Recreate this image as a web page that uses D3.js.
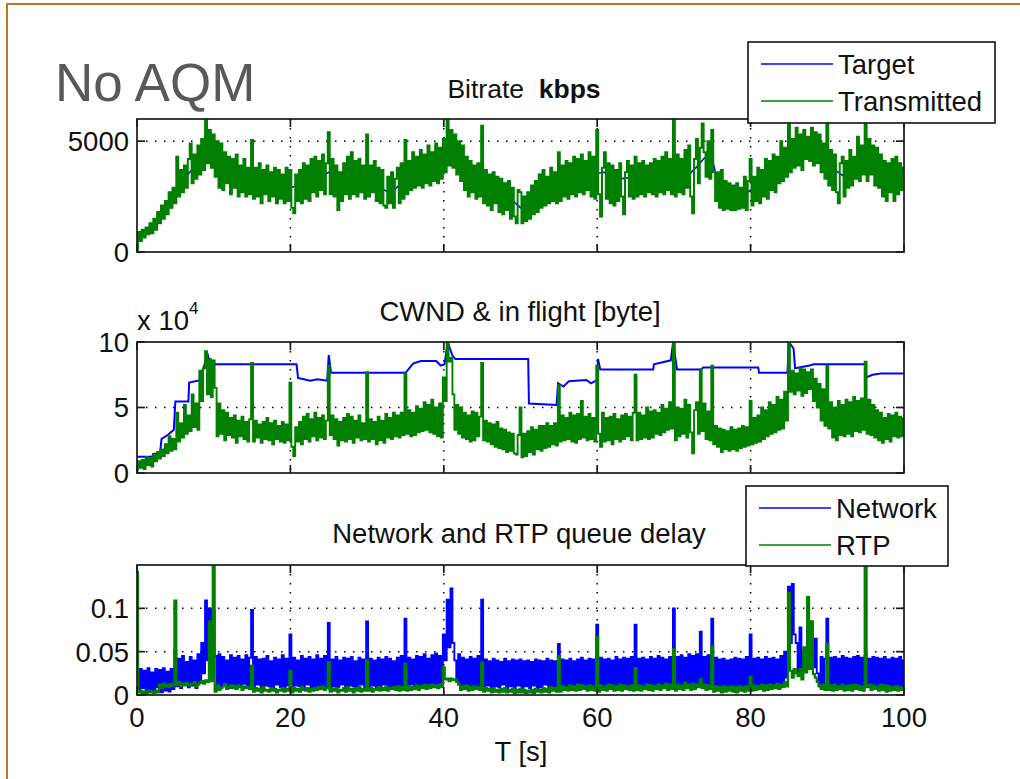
<!DOCTYPE html>
<html>
<head>
<meta charset="utf-8">
<script src="https://cdn.jsdelivr.net/npm/d3@7"></script>
<style>
  html, body { margin: 0; padding: 0; background: #fff; }
  svg text { font-family: "Liberation Sans", Arial, Helvetica, sans-serif; }
</style>
</head>
<body>
<div id="chart"></div>
<script>
// global constants
const W = 1020;
const H = 779;
const PLOT_LEFT = 137;
const PLOT_RIGHT = 904;
const BLUE = "#0000ff";
const GREEN = "#007f00";
const FONT = 27.5;

// shared time axis
const xTicks = [0, 20, 40, 60, 80, 100];
const COARSE_STEP = 1;    // seconds between target bitrate samples
const FINE_STEP = 0.25;   // seconds between noisy samples

// Bitrate [kbps] - target (1 s)
const bitrateTarget = [
  700, 850, 1100, 1700, 2100, 2600, 3200, 3650, 4100, 4550,
  4650, 4200, 3750, 3500, 3350, 3250, 3100, 3050, 3000, 2950,
  2900, 3000, 3100, 3250, 3400, 3600, 3300, 3050, 3300, 3250,
  3300, 3100, 2850, 2650, 2950, 3250, 3500, 3650, 3800, 3900,
  4100, 4250, 4300, 3400, 2950, 2850, 2750, 2650, 2450, 2300,
  2000, 1950, 2500, 2800, 2950, 3050, 3150, 3250, 3350, 3450,
  3550, 3600, 2900, 3300, 3350, 3300, 3350, 3300, 3350, 3350,
  3400, 3350, 3500, 3850, 4250, 4200, 2700, 2300, 2050, 2500,
  2800, 3000, 3250, 3550, 4000, 4350, 4600, 4750, 4850, 4600,
  4100, 3700, 3450, 3800, 4250, 4350, 4150, 3800, 3350, 3250,
  3150
];

// Bitrate [kbps] - transmitted (0.25 s, one row = 5 s)
const bitrateTransmitted = [
  100, 900, 500, 1000, 650, 1100, 800, 1300, 850, 1500, 1000, 1800, 1300, 2100, 1500, 2300, 1700, 2700, 2000, 2900,
  2200, 4300, 2500, 3700, 2700, 3900, 2900, 4200, 4900, 3100, 4400, 3300, 4800, 3500, 5100, 3700, 5950, 4000, 5500, 3800,
  5300, 3400, 5000, 2900, 4900, 2800, 4500, 3100, 4300, 2600, 4200, 2900, 4400, 2500, 3900, 2700, 4200, 2500, 3800, 2600,
  5050, 2400, 3800, 2500, 4000, 2200, 3700, 2600, 3900, 2300, 3600, 2500, 3800, 2200, 3700, 2400, 3500, 2200, 3800, 2300,
  3700, 2000, 1750, 3500, 2300, 3700, 2200, 4000, 2400, 3900, 2300, 4200, 2700, 4300, 2500, 4100, 2800, 4400, 2600, 4000,
  5400, 2600, 4200, 2500, 3900, 1900, 3600, 2300, 4000, 2600, 4300, 2400, 4500, 2600, 4100, 2500, 4200, 2700, 3900, 2400,
  5300, 2500, 3900, 2700, 4100, 2300, 3800, 2200, 3700, 2100, 2000, 3400, 2200, 3600, 2000, 3300, 3800, 2200, 4000, 2400,
  5050, 2600, 4100, 2800, 4500, 2900, 4300, 3000, 4600, 2900, 4400, 3100, 4800, 3000, 4500, 3200, 4900, 3100, 4700, 3300,
  5100, 3600, 5950, 3900, 5500, 3800, 5300, 3500, 5000, 3200, 4800, 2800, 4300, 2500, 4100, 2700, 3900, 2400, 4000, 2500,
  5700, 2200, 3700, 2100, 3500, 1900, 3600, 2200, 3400, 1800, 3300, 1700, 3100, 1900, 3200, 1500, 2900, 1600, 1300, 2800,
  2700, 1300, 2500, 1400, 2700, 1500, 3000, 1700, 3200, 1800, 3500, 2000, 3700, 2100, 3400, 2200, 3800, 2300, 3600, 2200,
  4500, 2300, 3900, 2500, 4100, 2400, 4000, 2600, 4300, 2500, 4200, 2700, 4400, 2600, 4100, 2800, 4500, 2500, 4300, 2400,
  5500, 2600, 1600, 3800, 4500, 2400, 4000, 2200, 3900, 2100, 3700, 2300, 4000, 2500, 1700, 3600, 4100, 2500, 3900, 2400,
  4300, 2500, 4000, 2600, 4100, 2500, 3900, 2700, 4000, 2600, 4200, 2500, 4100, 2700, 4300, 2600, 4500, 2800, 4200, 2600,
  5950, 2500, 4400, 2700, 4200, 2600, 4600, 2900, 4800, 2500, 1750, 4200, 5100, 3100, 4700, 5800, 4500, 3400, 5000, 3300,
  5500, 3600, 2300, 3600, 2000, 3700, 1900, 3200, 1950, 3100, 1900, 3000, 1900, 3100, 1950, 2900, 2000, 3400, 1900, 3200,
  4200, 2100, 3400, 2300, 3800, 2200, 3700, 2500, 4200, 2400, 4100, 2800, 4400, 2700, 4300, 3100, 5000, 3200, 4700, 3400,
  5800, 3600, 5100, 3800, 5600, 3900, 5300, 3700, 5500, 4200, 5200, 4100, 5600, 3900, 5400, 4000, 5300, 3600, 4900, 3300,
  5800, 3000, 4600, 2800, 4400, 2700, 2200, 4000, 4300, 2500, 4100, 2900, 4600, 3000, 4300, 3300, 5200, 3200, 4800, 3500,
  5800, 3200, 5100, 3500, 4800, 3000, 4700, 2900, 4400, 2500, 4100, 2300, 4000, 2700, 4200, 2300, 4300, 2600, 4000, 2800,
  3800
];

// CWND [x 10^4 byte] - breakpoints (s, value)
const cwndTimes = [
  0, 2.0, 2.1, 3.0, 3.2, 4.0, 4.8, 5.0, 6.7, 6.8,
  8.4, 8.6, 9.2, 9.5, 20.8, 21.0, 22.6, 23.5, 24.8, 25.0,
  25.3, 35.0, 35.3, 36.0, 37.0, 39.0, 39.6, 40.1, 40.5, 41.1,
  41.5, 51.0, 51.1, 54.7, 54.9, 55.6, 56.3, 58.6, 59.2, 60.0,
  60.1, 60.4, 67.3, 67.4, 69.6, 69.9, 70.4, 73.6, 73.8, 81.0,
  81.1, 84.8, 85.0, 85.6, 85.8, 87.7, 88.2, 94.9, 95.1, 95.9,
  97.0, 100
];
const cwndValues = [
  1.25, 1.25, 1.45, 1.5, 2.6, 2.9, 3.3, 5.45, 5.45, 6.9,
  7.1, 7.85, 9.1, 8.3, 8.3, 7.25, 7.05, 7.15, 7.05, 9.0,
  7.65, 7.65, 7.85, 8.35, 8.55, 8.55, 8.2, 8.3, 10, 9.0,
  8.7, 8.7, 5.3, 5.2, 6.85, 6.6, 7.0, 7.1, 6.85, 7.1,
  8.7, 7.9, 7.9, 8.3, 8.6, 10, 7.9, 7.9, 8.05, 8.05,
  7.65, 7.65, 10, 9.5, 8.0, 8.2, 8.3, 8.3, 7.3, 7.5,
  7.6, 7.6
];

// In flight [x 10^4 byte] (0.25 s, one row = 5 s)
const inFlight = [
  0.2, 0.9, 0.4, 1.0, 0.3, 1.2, 0.6, 1.1, 0.5, 1.4, 0.9, 1.6, 1.1, 1.8, 1.3, 2.2, 1.5, 2.8, 1.7, 2.6,
  1.8, 4.6, 2.4, 3.8, 2.7, 5.2, 3.0, 4.4, 3.2, 6.0, 3.5, 5.3, 3.3, 7.8, 5.5, 8.0, 9.3, 6.0, 8.7, 5.8,
  8.6, 6.5, 2.8, 5.3, 3.0, 4.8, 2.5, 4.6, 2.9, 4.2, 2.7, 4.4, 2.3, 4.0, 2.8, 4.3, 2.6, 3.9, 2.4, 4.1,
  8.4, 2.4, 4.0, 2.7, 3.7, 2.3, 3.9, 2.6, 4.2, 2.5, 3.8, 2.2, 4.0, 2.6, 3.6, 2.4, 3.9, 2.3, 3.7, 2.5,
  6.9, 2.0, 1.3, 3.5, 2.4, 3.9, 2.2, 4.3, 2.6, 4.5, 2.4, 4.1, 2.8, 4.6, 2.5, 4.2, 2.7, 4.4, 2.6, 4.0,
  8.2, 2.9, 4.4, 2.6, 4.1, 2.1, 3.9, 2.5, 4.2, 2.4, 4.5, 2.6, 4.3, 2.3, 4.0, 2.7, 4.4, 2.5, 3.8, 2.6,
  7.7, 2.4, 4.1, 2.6, 3.9, 2.2, 4.3, 2.5, 4.0, 2.3, 4.5, 2.7, 4.2, 2.6, 4.6, 2.8, 4.4, 2.7, 4.6, 2.9,
  7.6, 3.0, 4.8, 2.8, 4.6, 2.9, 5.1, 3.1, 4.9, 3.2, 5.4, 3.3, 5.2, 3.1, 5.6, 3.0, 5.0, 2.8, 5.3, 2.7,
  7.3, 5.5, 10, 8.5, 8.8, 6.0, 3.3, 5.2, 3.0, 5.0, 2.7, 4.6, 2.6, 4.4, 2.4, 4.7, 2.5, 4.6, 2.8, 4.3,
  8.4, 2.5, 4.0, 2.4, 3.8, 2.2, 3.7, 2.0, 3.9, 1.9, 3.4, 1.8, 3.3, 1.6, 3.1, 1.7, 3.0, 1.5, 1.4, 2.9,
  5.0, 1.2, 3.0, 1.3, 3.2, 1.6, 3.5, 1.4, 3.3, 1.8, 3.6, 1.7, 3.6, 1.9, 3.8, 2.0, 3.6, 2.2, 3.8, 2.1,
  6.7, 2.4, 4.4, 2.5, 4.2, 2.6, 4.6, 2.4, 4.4, 2.3, 4.5, 2.6, 5.5, 2.7, 4.3, 2.5, 4.5, 2.6, 4.2, 2.4,
  8.2, 3.0, 2.0, 4.6, 2.4, 4.2, 2.5, 4.3, 2.2, 4.5, 2.6, 4.1, 2.4, 4.4, 2.6, 4.5, 2.8, 4.3, 2.5, 4.6,
  7.5, 2.5, 4.6, 2.6, 4.4, 2.7, 5.0, 2.6, 4.7, 2.7, 4.8, 3.0, 4.6, 2.9, 5.2, 3.1, 4.9, 3.3, 5.4, 3.4,
  10, 2.5, 5.0, 2.8, 4.9, 3.0, 5.6, 2.7, 5.2, 3.1, 1.5, 4.8, 5.4, 3.0, 7.9, 3.2, 5.3, 2.6, 4.7, 2.5,
  8.2, 2.2, 3.6, 2.0, 3.4, 1.6, 3.3, 1.8, 3.2, 1.7, 3.5, 1.8, 3.3, 1.7, 3.4, 1.9, 3.6, 2.0, 3.5, 2.1,
  5.5, 2.2, 4.2, 2.3, 4.4, 2.4, 5.0, 2.6, 4.8, 2.8, 5.4, 3.0, 5.2, 3.1, 5.8, 3.3, 5.6, 3.4, 6.2, 4.0,
  10, 6.2, 7.8, 6.0, 7.6, 6.3, 8.0, 5.9, 7.9, 6.1, 7.7, 6.4, 7.9, 5.5, 7.2, 5.0, 6.8, 4.0, 6.4, 3.6,
  8.2, 3.4, 5.4, 2.7, 5.0, 2.5, 5.5, 2.9, 5.2, 2.8, 5.6, 3.0, 5.4, 2.8, 5.8, 3.2, 5.5, 3.1, 5.7, 3.3,
  8.5, 3.0, 5.6, 2.9, 5.2, 2.7, 4.8, 2.5, 4.6, 2.3, 4.2, 2.6, 4.5, 2.4, 4.4, 2.8, 4.6, 2.7, 4.3, 2.8,
  4.2
];

// Network queue delay [ms] (0.25 s, one row = 5 s)
const networkDelayMs = [
  25, 4, 30, 8, 28, 3, 31, 6, 26, 4, 30, 9, 29, 3, 31, 5, 27, 4, 30, 7,
  52, 10, 42, 8, 45, 12, 38, 9, 44, 11, 40, 8, 47, 15, 60, 25, 109, 40, 100, 30,
  98, 45, 12, 47, 10, 44, 14, 40, 8, 46, 12, 43, 9, 45, 11, 41, 13, 46, 10, 43,
  98, 9, 44, 12, 41, 7, 42, 11, 45, 10, 39, 6, 43, 12, 41, 9, 46, 8, 42, 11,
  70, 8, 43, 11, 40, 10, 45, 7, 42, 12, 44, 9, 41, 8, 46, 11, 42, 8, 45, 10,
  83, 6, 41, 10, 44, 9, 40, 12, 43, 7, 42, 11, 44, 10, 39, 8, 43, 12, 41, 9,
  85, 7, 42, 11, 40, 9, 43, 6, 41, 12, 44, 8, 42, 10, 39, 11, 43, 7, 45, 9,
  88, 9, 43, 12, 41, 7, 45, 11, 44, 10, 47, 8, 42, 12, 46, 11, 48, 10, 45, 14,
  70, 40, 110, 55, 123, 60, 40, 15, 47, 9, 43, 12, 41, 7, 44, 11, 42, 9, 45, 10,
  110, 8, 41, 11, 39, 6, 42, 10, 40, 9, 38, 12, 42, 7, 39, 10, 41, 8, 40, 11,
  41, 6, 39, 10, 40, 8, 38, 11, 41, 7, 40, 9, 39, 12, 42, 6, 40, 10, 39, 9,
  59, 7, 41, 10, 40, 9, 42, 6, 39, 11, 41, 8, 43, 10, 40, 7, 42, 11, 41, 9,
  81, 8, 43, 11, 41, 6, 42, 10, 40, 9, 44, 7, 41, 12, 43, 8, 42, 10, 44, 9,
  81, 6, 42, 11, 43, 9, 41, 7, 44, 12, 42, 8, 45, 10, 43, 9, 41, 11, 44, 8,
  100, 7, 44, 12, 46, 10, 43, 9, 47, 11, 45, 8, 47, 13, 73, 10, 44, 12, 46, 9,
  88, 7, 43, 10, 41, 8, 42, 11, 40, 6, 41, 9, 43, 7, 42, 10, 41, 8, 44, 9,
  70, 7, 42, 10, 43, 8, 41, 11, 44, 6, 42, 9, 43, 12, 41, 8, 45, 10, 50, 20,
  125, 60, 128, 70, 60, 25, 78, 30, 50, 35, 80, 30, 40, 32, 65, 25, 12, 44, 10, 42,
  88, 8, 43, 11, 44, 7, 42, 10, 45, 9, 43, 12, 42, 8, 44, 11, 45, 7, 43, 10,
  46, 9, 42, 11, 44, 7, 43, 10, 42, 8, 44, 12, 41, 9, 43, 7, 42, 10, 44, 8,
  40
];

// RTP queue delay [ms] (0.25 s, one row = 5 s)
const rtpDelayMs = [
  142, 3, 5, 2, 4, 1, 5, 3, 4, 2, 5, 3, 12, 8, 13, 10, 12, 9, 13, 11,
  109, 12, 15, 10, 13, 11, 14, 12, 11, 13, 15, 10, 12, 14, 16, 13, 17, 15, 85, 16,
  150, 4, 11, 6, 8, 10, 12, 7, 9, 11, 8, 10, 7, 11, 9, 6, 10, 8, 9, 7,
  34, 4, 8, 5, 7, 3, 9, 5, 6, 4, 8, 5, 7, 3, 6, 5, 8, 4, 7, 5,
  28, 3, 8, 5, 7, 4, 9, 6, 5, 8, 4, 7, 5, 8, 6, 9, 7, 10, 6, 8,
  38, 4, 7, 5, 8, 3, 6, 5, 8, 4, 9, 5, 7, 3, 8, 5, 9, 4, 7, 5,
  40, 5, 8, 4, 7, 6, 9, 5, 8, 6, 10, 5, 8, 7, 9, 6, 10, 5, 9, 6,
  36, 5, 10, 6, 9, 7, 11, 6, 10, 8, 12, 7, 11, 8, 12, 9, 11, 8, 12, 9,
  32, 18, 19, 16, 19, 17, 18, 15, 12, 6, 10, 7, 11, 5, 9, 6, 10, 7, 9, 6,
  37, 4, 8, 5, 7, 3, 8, 4, 6, 3, 7, 4, 8, 3, 6, 4, 7, 2, 6, 3,
  7, 3, 6, 2, 5, 3, 6, 2, 7, 4, 6, 3, 8, 4, 7, 3, 9, 5, 8, 4,
  45, 4, 10, 6, 9, 5, 11, 6, 10, 5, 12, 6, 11, 7, 10, 5, 11, 6, 10, 5,
  67, 4, 11, 6, 10, 5, 12, 7, 11, 5, 10, 6, 12, 5, 11, 7, 10, 6, 11, 5,
  31, 6, 11, 5, 10, 7, 12, 6, 11, 5, 10, 7, 12, 6, 11, 8, 13, 6, 12, 7,
  53, 5, 12, 7, 11, 6, 14, 8, 12, 6, 13, 7, 12, 9, 18, 8, 12, 6, 11, 7,
  56, 4, 10, 5, 9, 3, 10, 4, 9, 5, 10, 4, 9, 3, 10, 5, 9, 4, 10, 5,
  21, 5, 11, 6, 10, 7, 12, 5, 11, 6, 12, 7, 11, 8, 13, 7, 12, 9, 15, 10,
  118, 28, 20, 30, 25, 22, 30, 18, 55, 26, 113, 30, 85, 24, 20, 15, 10, 7, 12, 6,
  59, 6, 11, 5, 12, 6, 10, 7, 12, 5, 10, 6, 11, 5, 12, 7, 11, 6, 10, 5,
  150, 10, 12, 6, 11, 7, 10, 5, 12, 6, 11, 4, 10, 5, 9, 6, 10, 5, 9, 6,
  8
];

// panel definitions
const panels = [
  { id: "p1", top: 119, bottom: 252, domain: [0, 6000], ticks: [0, 5000],
    tickLabels: ["0", "5000"], grid: [5000] },
  { id: "p2", top: 342, bottom: 473, domain: [0, 10], ticks: [0, 5, 10],
    tickLabels: ["0", "5", "10"], grid: [5] },
  { id: "p3", top: 565, bottom: 695, domain: [0, 150], ticks: [0, 50, 100],
    tickLabels: ["0", "0.05", "0.1"], grid: [50, 100] },
];

const svg = d3.select("#chart").append("svg")
  .attr("width", W)
  .attr("height", H)
  .attr("viewBox", `0 0 ${W} ${H}`);

// slide frame
svg.append("path")
  .attr("d", `M7,${H} L7,4 L${W},4`)
  .attr("fill", "none")
  .attr("stroke", "#c0781e")
  .attr("stroke-width", 2);

svg.append("text")
  .attr("x", 55)
  .attr("y", 101)
  .attr("font-size", 53)
  .attr("fill", "#595959")
  .text("No AQM");

const x = d3.scaleLinear().domain([0, 100]).range([PLOT_LEFT, PLOT_RIGHT]);

function drawPanel(p) {
  const y = d3.scaleLinear().domain(p.domain).range([p.bottom, p.top]);
  const g = svg.append("g");

  g.append("clipPath").attr("id", "clip-" + p.id)
    .append("rect")
    .attr("x", PLOT_LEFT).attr("y", p.top)
    .attr("width", PLOT_RIGHT - PLOT_LEFT).attr("height", p.bottom - p.top);

  // dotted grid
  const dots = "1.5,7.5";
  xTicks.slice(1, -1).forEach((t) => {
    g.append("line")
      .attr("x1", x(t)).attr("x2", x(t))
      .attr("y1", p.top).attr("y2", p.bottom)
      .attr("stroke", "#000").attr("stroke-width", 1.5)
      .attr("stroke-dasharray", dots);
  });
  p.grid.forEach((v) => {
    g.append("line")
      .attr("x1", PLOT_LEFT).attr("x2", PLOT_RIGHT)
      .attr("y1", y(v)).attr("y2", y(v))
      .attr("stroke", "#000").attr("stroke-width", 1.5)
      .attr("stroke-dasharray", dots);
  });

  const plot = g.append("g").attr("clip-path", `url(#clip-${p.id})`);

  // box + inward ticks
  const frame = g.append("g").attr("stroke", "#1a1a1a").attr("stroke-width", 1.7);
  frame.append("rect")
    .attr("x", PLOT_LEFT).attr("y", p.top)
    .attr("width", PLOT_RIGHT - PLOT_LEFT).attr("height", p.bottom - p.top)
    .attr("fill", "none");
  const TL = 8;
  xTicks.forEach((t) => {
    frame.append("line").attr("x1", x(t)).attr("x2", x(t))
      .attr("y1", p.bottom).attr("y2", p.bottom - TL);
    frame.append("line").attr("x1", x(t)).attr("x2", x(t))
      .attr("y1", p.top).attr("y2", p.top + TL);
  });
  p.ticks.forEach((v, i) => {
    frame.append("line").attr("x1", PLOT_LEFT).attr("x2", PLOT_LEFT + TL)
      .attr("y1", y(v)).attr("y2", y(v));
    frame.append("line").attr("x1", PLOT_RIGHT).attr("x2", PLOT_RIGHT - TL)
      .attr("y1", y(v)).attr("y2", y(v));
    g.append("text")
      .attr("x", PLOT_LEFT - 8)
      .attr("y", y(v))
      .attr("dy", "0.36em")
      .attr("text-anchor", "end")
      .attr("font-size", FONT)
      .attr("fill", "#111")
      .text(p.tickLabels[i]);
  });

  return { y, plot };
}

const [P1, P2, P3] = panels.map(drawPanel);

// dense samples are drawn as steps so they read as vertical strokes
function addSeries(panel, values, step, color, width, curve) {
  const line = d3.line()
    .curve(curve || d3.curveLinear)
    .x((d, i) => x(i * step))
    .y((d) => panel.y(d));
  panel.plot.append("path")
    .datum(values)
    .attr("d", line)
    .attr("fill", "none")
    .attr("stroke", color)
    .attr("stroke-width", width)
    .attr("stroke-linejoin", "miter");
}

// Panel 1: bitrate
addSeries(P1, bitrateTarget, COARSE_STEP, BLUE, 1.6);
addSeries(P1, bitrateTransmitted, FINE_STEP, GREEN, 2.0, d3.curveStep);

// Panel 2: CWND & in flight
P2.plot.append("path")
  .datum(cwndTimes.map((t, i) => [t, cwndValues[i]]))
  .attr("d", d3.line().x((d) => x(d[0])).y((d) => P2.y(d[1])))
  .attr("fill", "none")
  .attr("stroke", BLUE)
  .attr("stroke-width", 2);
addSeries(P2, inFlight, FINE_STEP, GREEN, 1.9, d3.curveStep);

// Panel 3: queue delays
addSeries(P3, networkDelayMs, FINE_STEP, BLUE, 1.9, d3.curveStep);
addSeries(P3, rtpDelayMs, FINE_STEP, GREEN, 2.2, d3.curveStep);

// x tick labels (bottom panel only)
xTicks.forEach((t) => {
  svg.append("text")
    .attr("x", x(t)).attr("y", 727)
    .attr("text-anchor", "middle")
    .attr("font-size", FONT)
    .attr("fill", "#111")
    .text(t);
});
svg.append("text")
  .attr("x", 521).attr("y", 761)
  .attr("text-anchor", "middle")
  .attr("font-size", FONT)
  .attr("fill", "#111")
  .text("T [s]");

// titles
const t1 = svg.append("text")
  .attr("x", 524).attr("y", 98)
  .attr("text-anchor", "middle")
  .attr("font-size", 26.5)
  .attr("fill", "#111");
t1.append("tspan").text("Bitrate\u00a0\u00a0");
t1.append("tspan").attr("font-weight", "bold").text("kbps");

svg.append("text")
  .attr("x", 520).attr("y", 321)
  .attr("text-anchor", "middle")
  .attr("font-size", FONT)
  .attr("fill", "#111")
  .text("CWND & in flight [byte]");

svg.append("text")
  .attr("x", 519).attr("y", 543)
  .attr("text-anchor", "middle")
  .attr("font-size", FONT)
  .attr("fill", "#111")
  .text("Network and RTP queue delay");

// exponent label
const ex = svg.append("text")
  .attr("x", 137).attr("y", 330)
  .attr("font-size", FONT)
  .attr("fill", "#111");
ex.append("tspan").text("x 10");
ex.append("tspan").attr("font-size", 17).attr("dy", -16).text("4");

// legends
function legend(x0, y0, w, h, items) {
  const g = svg.append("g");
  g.append("rect")
    .attr("x", x0).attr("y", y0).attr("width", w).attr("height", h)
    .attr("fill", "#fff").attr("stroke", "#111").attr("stroke-width", 1.6);
  items.forEach((it, i) => {
    const yy = y0 + 22 + i * 37;
    g.append("line")
      .attr("x1", x0 + 13).attr("x2", x0 + 85)
      .attr("y1", yy).attr("y2", yy)
      .attr("stroke", it.color).attr("stroke-width", 1.6);
    g.append("text")
      .attr("x", x0 + 90).attr("y", yy).attr("dy", "0.36em")
      .attr("font-size", FONT).attr("fill", "#111")
      .text(it.label);
  });
}
legend(748, 42, 247, 81, [
  { label: "Target", color: BLUE },
  { label: "Transmitted", color: GREEN },
]);
legend(746, 486, 202, 80, [
  { label: "Network", color: BLUE },
  { label: "RTP", color: GREEN },
]);
</script>
</body>
</html>
